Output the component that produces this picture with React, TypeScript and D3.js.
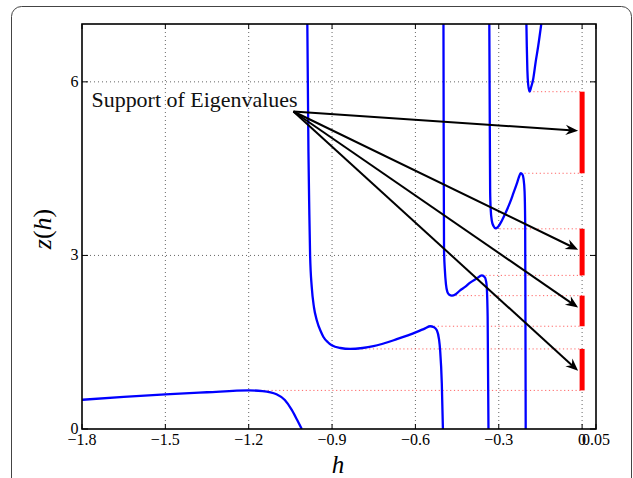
import React from 'react';
import * as d3 from 'd3';

// x ticks, y ticks
const xTicks = [-1.8, -1.5, -1.2, -0.9, -0.6, -0.3, 0, 0.05];
const yTicks = [0, 3, 6];

// z(h), one array per branch (between the poles)
const branch1: [number, number][] = [
  [-1.8, 0.505], [-1.65, 0.555], [-1.5, 0.6], [-1.35, 0.635], [-1.2, 0.667],
  [-1.15, 0.655], [-1.1, 0.6], [-1.07, 0.5], [-1.045, 0.33], [-1.025, 0.15], [-1.009, 0],
];
const branch2: [number, number][] = [
  [-0.989, 7.0], [-0.985, 4.8], [-0.982, 3.8], [-0.979, 3.0], [-0.973, 2.45],
  [-0.965, 2.1], [-0.955, 1.88], [-0.94, 1.68], [-0.931, 1.59], [-0.915, 1.5],
  [-0.901, 1.448], [-0.87, 1.4], [-0.835, 1.384], [-0.79, 1.4], [-0.751, 1.431],
  [-0.667, 1.552], [-0.595, 1.678], [-0.565, 1.74], [-0.547, 1.776], [-0.533, 1.76],
  [-0.523, 1.707], [-0.515, 1.55], [-0.511, 1.36], [-0.505, 0.79], [-0.501, 0],
];
const branch3: [number, number][] = [
  [-0.499, 7.0], [-0.498, 4.5], [-0.497, 3.1], [-0.494, 2.75], [-0.49, 2.5],
  [-0.485, 2.37], [-0.478, 2.32], [-0.469, 2.305], [-0.455, 2.33], [-0.439, 2.397],
  [-0.42, 2.46], [-0.403, 2.53], [-0.38, 2.6], [-0.361, 2.655], [-0.35, 2.62],
  [-0.344, 2.5], [-0.34, 1.94], [-0.337, 0],
];
const branch4: [number, number][] = [
  [-0.334, 7.0], [-0.332, 5.0], [-0.331, 4.1], [-0.329, 3.8], [-0.325, 3.6],
  [-0.319, 3.51], [-0.311, 3.47], [-0.3, 3.51], [-0.289, 3.6], [-0.274, 3.75],
  [-0.259, 3.92], [-0.247, 4.08], [-0.235, 4.24], [-0.227, 4.36], [-0.221, 4.42],
  [-0.215, 4.4], [-0.211, 4.33], [-0.207, 4.1], [-0.205, 3.6], [-0.204, 2.0], [-0.203, 0],
];
const branch5: [number, number][] = [
  [-0.2005, 7.0], [-0.199, 6.6], [-0.197, 6.2], [-0.194, 5.95], [-0.189, 5.83],
  [-0.184, 5.9], [-0.176, 6.05], [-0.167, 6.35], [-0.158, 6.62], [-0.147, 7.0],
];
const branches = [branch1, branch2, branch3, branch4, branch5];

// support of eigenvalues (edges on the z axis) and where the dotted guides start
const supportLower = [0.667, 1.776, 2.655, 4.42];
const supportUpper = [1.384, 2.305, 3.46, 5.83];
const guideLevels = [0.667, 1.384, 1.776, 2.305, 2.655, 3.46, 4.42, 5.83];
const guideStartH = [-1.2, -0.835, -0.547, -0.469, -0.361, -0.311, -0.221, -0.189];

// annotation arrows
const arrowFrom: [number, number] = [-1.039, 5.488];
const arrowToH = -0.0144;
const arrowToZ = [5.155, 3.098, 2.098, 1.005];

const W = 633, H = 478;
const left = 82, right = 596, top = 24, bottom = 429;
const serif = 'Liberation Serif, DejaVu Serif, serif';

const fmt = (v: number) => (v < 0 ? '\u2212' + Math.abs(v) : String(v));

const App = () => {
  const x = d3.scaleLinear().domain([-1.8, 0.05]).range([left, right]);
  const y = d3.scaleLinear().domain([0, 7]).range([bottom, top]);

  const line = d3.line<[number, number]>()
    .x(d => x(d[0]))
    .y(d => y(d[1]))
    .curve(d3.curveMonotoneX);

  const arrowHead = (x1: number, y1: number, x2: number, y2: number) => {
    const a = Math.atan2(y2 - y1, x2 - x1);
    const len = 12.5, half = 5.2, notch = 8.5;
    const c = Math.cos(a), s = Math.sin(a);
    const p = (u: number, v: number) => [x2 + u * c - v * s, y2 + u * s + v * c];
    const pts = [p(0, 0), p(-len, -half), p(-notch, 0), p(-len, half)];
    return 'M' + pts.map(q => q.join(',')).join('L') + 'Z';
  };

  return (
    <svg width={W} height={H} style={{ position: 'absolute', left: 0, top: 0, background: '#fff' }}>
      <rect x={11.5} y={6.5} width={620} height={520} rx={10} fill="none" stroke="#444" strokeWidth={1} />
      <defs>
        <clipPath id="plot">
          <rect x={left} y={top} width={right - left} height={bottom - top} />
        </clipPath>
      </defs>

      {/* grid */}
      <g stroke="#666" strokeWidth={1} strokeDasharray="1,3">
        {xTicks.filter(t => t > -1.8 && t < 0.05).map(t => (
          <line key={'gx' + t} x1={x(t)} x2={x(t)} y1={top} y2={bottom} />
        ))}
        {yTicks.filter(t => t > 0).map(t => (
          <line key={'gy' + t} x1={left} x2={right} y1={y(t)} y2={y(t)} />
        ))}
      </g>

      {/* red dotted guides */}
      <g stroke="#ff4040" strokeOpacity={0.8} strokeWidth={1} strokeDasharray="1.2,2.6">
        {guideLevels.map((z, i) => (
          <line key={'g' + i} x1={x(guideStartH[i])} x2={x(0)} y1={y(z)} y2={y(z)} />
        ))}
      </g>

      {/* z(h) */}
      <g clipPath="url(#plot)" fill="none" stroke="#0000ff" strokeWidth={2.3}>
        {branches.map((b, i) => <path key={'b' + i} d={line(b) || ''} />)}
      </g>

      {/* support bars */}
      <g stroke="#ff0000" strokeWidth={5}>
        {supportLower.map((lo, i) => (
          <line key={'s' + i} x1={x(0)} x2={x(0)} y1={y(lo)} y2={y(supportUpper[i])} />
        ))}
      </g>

      {/* arrows */}
      <g>
        {arrowToZ.map((z, i) => {
          const x1 = x(arrowFrom[0]), y1 = y(arrowFrom[1]);
          const x2 = x(arrowToH), y2 = y(z);
          const a = Math.atan2(y2 - y1, x2 - x1);
          return (
            <g key={'a' + i}>
              <line x1={x1} y1={y1} x2={x2 - 8 * Math.cos(a)} y2={y2 - 8 * Math.sin(a)}
                stroke="#000" strokeWidth={2} />
              <path d={arrowHead(x1, y1, x2, y2)} fill="#000" />
            </g>
          );
        })}
      </g>

      <text x={91.5} y={107} fontFamily={serif} fontSize={21} textLength={206}
        lengthAdjust="spacingAndGlyphs" fill="#111">Support of Eigenvalues</text>

      {/* axes box and ticks */}
      <rect x={left} y={top} width={right - left} height={bottom - top} fill="none" stroke="#000" strokeWidth={1.6} />
      <g stroke="#000" strokeWidth={1}>
        {xTicks.map(t => (
          <g key={'tx' + t}>
            <line x1={x(t)} x2={x(t)} y1={bottom} y2={bottom - 5} />
            <line x1={x(t)} x2={x(t)} y1={top} y2={top + 5} />
          </g>
        ))}
        {yTicks.map(t => (
          <g key={'ty' + t}>
            <line x1={left} x2={left + 6} y1={y(t)} y2={y(t)} />
            <line x1={right} x2={right - 6} y1={y(t)} y2={y(t)} />
          </g>
        ))}
      </g>
      <g fontFamily={serif} fontSize={16} fill="#000">
        {xTicks.map(t => (
          <text key={'lx' + t} x={x(t)} y={445} textAnchor="middle">{fmt(t)}</text>
        ))}
        {yTicks.map(t => (
          <text key={'ly' + t} x={78.5} y={y(t) + 5} textAnchor="end">{fmt(t)}</text>
        ))}
      </g>

      <text x={338} y={473} fontFamily={serif} fontSize={25} fontStyle="italic" textAnchor="middle">h</text>
      <text transform="translate(51,229) rotate(-90)" fontFamily={serif} fontSize={26} textAnchor="middle">
        <tspan fontStyle="italic">z</tspan>(<tspan fontStyle="italic">h</tspan>)
      </text>
    </svg>
  );
};

export default App;
